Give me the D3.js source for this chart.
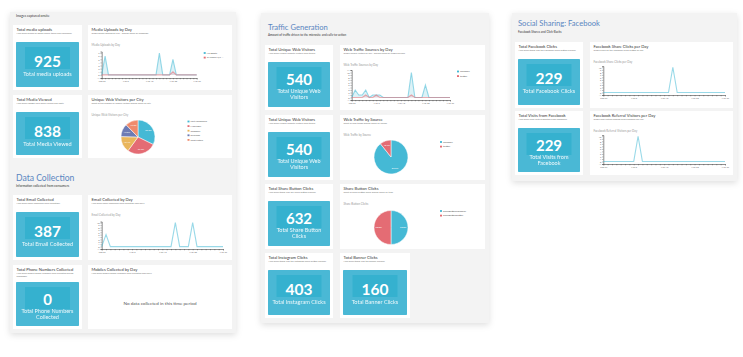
<!DOCTYPE html>
<html><head><meta charset="utf-8">
<script src="https://cdn.jsdelivr.net/npm/d3@7"></script>
<style>html,body{margin:0;padding:0;background:#fff;}svg{display:block;font-family:Lato,"Open Sans",sans-serif;}</style>
</head><body><svg id="c" width="743" height="357"></svg>
<script>
// ---------- DATA ----------
const days = ["Feb 27","Feb 28","Mar 1","Mar 2","Mar 3","Mar 4","Mar 5","Mar 6","Mar 7","Mar 8","Mar 9","Mar 10","Mar 11","Mar 12","Mar 13","Mar 14","Mar 15","Mar 16","Mar 17","Mar 18","Mar 19","Mar 20","Mar 21","Mar 22","Mar 23","Mar 24","Mar 25","Mar 26","Mar 27"];
const dayTickLabels = ["Feb 27","Mar 6","Mar 13","Mar 20","Mar 27"];

const mediaSeriesNames = ["Ms Empty","Ci Fresno 2/7 ..."];
const mediaEmpty   = [0,6,0,0,0,0,0,0,0,0,0,0,0,0,0,0,0,7,0,0,0,5,0,0,0,0,0,0,0];
const mediaFresno  = [0,0,0,0,0,0,0,0,0,0,0,0,0,0,0,0,0,0,0,0,0,1,0,0,0,0,0,0,0];

const emailByDay   = [0,5,0,0,0,0,0,0,0,0,0,0,0,0,0,0,0,10,0,0,0,10,0,0,0,0,0,0,0];

const trafficSourceNames = ["facebook","twitter"];
const trafficFacebook = [0,3,1,1,3,0,1,1,1,0,0,0,0,0,0,0,0,10,0,0,0,5,0,0,0,0,0,0,0];
const trafficTwitter  = [0,0,0,0,1,0,0,1,0,0,0,0,0,0,0,0,0,1,0,0,0,0,0,0,0,0,0,0,0];

const fbShareByDay    = [0,0,0,0,0,0,0,0,0,0,0,0,0,0,0,0,10,0,0,0,0,0,0,0,0,0,0,0,0];
const fbReferralByDay = [0,0,0,0,0,0,0,0,10,0,0,0,0,0,0,0,0,0,0,0,0,0,0,0,0,0,0,0,0];

const cityNames  = ["Fort Lauderdale","Moon Bay","Campbell","Riverside","Saint Peters"];
const cityShares = [32.3,27.7,15.4,12.3,12.3];

const sourceShares = [89.3,10.7];
const shareButtonNames = ["ShareButtonFacebook","ShareButtonTwitter"];
const shareButtonShares = [50.0,50.0];

const statValues = {uploads:925, viewed:838, email:387, phones:0, visitors:540, share:632, instagram:403, banner:160, fbClicks:229, fbVisits:229};

// ---------- STYLE ----------
const C = {panel:"#f3f3f3", card:"#ffffff", tile:"#4ab8d5", tileInner:"#35b1cf",
  head:"#5a86c1", blue:"#45b9d5", red:"#e46c74", yellow:"#e9b65c", purple:"#6d7bb4", orange:"#ef8b6b"};
const pieColors = [C.blue,C.red,C.yellow,C.purple,C.orange];

const svg = d3.select("#c");
const defs = svg.append("defs");
const f = defs.append("filter").attr("id","sh").attr("x","-10%").attr("y","-10%").attr("width","120%").attr("height","125%");
f.append("feDropShadow").attr("dx",0).attr("dy",2).attr("stdDeviation",3).attr("flood-color","#000").attr("flood-opacity",0.13);

function panel(x,y,w,h){
  svg.append("rect").attr("x",x).attr("y",y).attr("width",w).attr("height",h).attr("fill",C.panel).attr("filter","url(#sh)");
}
function txt(g,x,y,s,size,fill,opts={}){
  const t=g.append("text").attr("x",x).attr("y",y).attr("font-size",size).attr("fill",fill).text(s);
  if(opts.anchor) t.attr("text-anchor",opts.anchor);
  if(opts.weight) t.attr("font-weight",opts.weight);
  return t;
}
function wrapText(g,x,y,s,size,fill,maxW,lh){
  const words=s.split(" "); let line=[]; let yy=y;
  let t=txt(g,x,yy,"",size,fill);
  words.forEach(w=>{line.push(w); t.text(line.join(" "));
    if(t.node().getComputedTextLength()>maxW && line.length>1){line.pop(); t.text(line.join(" ")); line=[w]; yy+=lh; t=txt(g,x,yy,w,size,fill);} });
}
function card(x,y,w,h,title,sub){
  const g=svg.append("g");
  g.append("rect").attr("x",x).attr("y",y).attr("width",w).attr("height",h).attr("fill",C.card);
  txt(g,x+3.5,y+5.8,title,4.1,"#333");
  wrapText(g,x+3.5,y+9.3,sub,2.3,"#777",w-10,2.8);
  return g;
}
function statCard(x,y,w,h,title,sub,value,label){
  const g=card(x,y,w,h,title,sub);
  const tx=x+3, ty=y+17, tw=w-6, th=h-20;
  g.append("rect").attr("x",tx).attr("y",ty).attr("width",tw).attr("height",th).attr("fill",C.tile).attr("rx",0.8);
  g.append("rect").attr("x",tx+tw/2-22.5).attr("y",ty+5).attr("width",45).attr("height",22).attr("fill",C.tileInner);
  const lines = Array.isArray(label)?label:[label];
  const cx=tx+tw/2;
  if(lines.length===1){
    txt(g,cx,ty+24.5,value,15.5,"#fff",{anchor:"middle",weight:"bold"});
    txt(g,cx,ty+34,lines[0],5.6,"#fff",{anchor:"middle"}).attr("opacity",0.9);
  } else {
    txt(g,cx,ty+23,value,15,"#fff",{anchor:"middle",weight:"bold"});
    lines.forEach((l,i)=>txt(g,cx,ty+31.2+i*5.6,l,5.5,"#fff",{anchor:"middle"}).attr("opacity",0.9));
  }
}
function lineChart(g,cardX,cardY,chartTitle,box,seriesList,colors,yMax,legendNames,area){
  txt(g,cardX+3.5,cardY+20.5,chartTitle,2.9,"#999");
  const x=d3.scalePoint().domain(days).range([box.x0,box.x1]);
  const y=d3.scaleLinear().domain([-1,yMax]).range([box.y1,box.y0]);
  const ya=g.append("g").attr("transform",`translate(${box.x0},0)`).call(d3.axisLeft(y).ticks(12).tickSize(1.2).tickPadding(0.8));
  const xa=g.append("g").attr("transform",`translate(0,${box.y1})`).call(d3.axisBottom(x).tickSize(1.3).tickPadding(0.8).tickFormat(d=>dayTickLabels.includes(d)?d:""));
  [ya,xa].forEach(a=>{a.select(".domain").attr("stroke","#444").attr("stroke-width",0.6);
    a.selectAll(".tick line").attr("stroke","#444").attr("stroke-width",0.4);
    a.selectAll("text").attr("font-size",2.3).attr("fill","#666").attr("font-family","Lato,sans-serif");});
  seriesList.forEach((vals,i)=>{
    const col=colors[i];
    if(area){
      g.append("path").datum(vals).attr("fill",col).attr("fill-opacity",0.18)
       .attr("d",d3.area().x((d,j)=>x(days[j])).y0(y(0)).y1(d=>y(d)));
    }
    g.append("path").datum(vals).attr("fill","none").attr("stroke",col).attr("stroke-opacity",0.55).attr("stroke-width",1.1)
     .attr("d",d3.line().x((d,j)=>x(days[j])).y(d=>y(d)));
  });
  if(legendNames) legend(g,box.x1+7,box.y0+2,legendNames,colors);
}
function legend(g,x,y,names,colors){
  names.forEach((n,i)=>{
    g.append("rect").attr("x",x).attr("y",y+i*4.6-1.4).attr("width",2).attr("height",1.8).attr("fill",colors[i]);
    txt(g,x+3,y+i*4.6+0.3,n,2.4,"#555");
  });
}
function pieChart(g,cardX,cardY,chartTitle,cx,cy,r,vals,colors,names,lx,ly){
  txt(g,cardX+3.5,cardY+20.5,chartTitle,2.9,"#999");
  const arcs=d3.pie().sort(null)(vals);
  const arc=d3.arc().innerRadius(0).outerRadius(r);
  const pg=g.append("g").attr("transform",`translate(${cx},${cy})`);
  pg.selectAll("path").data(arcs).join("path").attr("d",arc).attr("fill",(d,i)=>colors[i]).attr("stroke","#fff").attr("stroke-width",0.5);
  const la=d3.arc().innerRadius(r*0.72).outerRadius(r*0.72);
  pg.selectAll("text").data(arcs).join("text").attr("transform",d=>`translate(${la.centroid(d)})`)
    .attr("text-anchor","middle").attr("dy","0.35em").attr("font-size",2.3).attr("fill","#fff").text(d=>d.data.toFixed(1)+"%");
  legend(g,lx,ly,names,colors);
}

// ---------- PANEL 1 ----------
panel(10,12,226,321);
txt(svg,16,16.5,"Images captured onsite",3.3,"#333");
statCard(13,25,69,65,"Total media uploads","How many pieces of media where taken and uploaded?",statValues.uploads,"Total media uploads");
let g=card(88,25,144,65,"Media Uploads by Day","Graph media uploads by day - broken down by campaign");
lineChart(g,88,25,"Media Uploads by Day",{x0:101.7,x1:196.7,y0:51.5,y1:78},[mediaEmpty,mediaFresno],[C.blue,C.red],7.5,mediaSeriesNames,true);
statCard(13,95,69,63,"Total Media Viewed","How many images have been viewed and sent?",statValues.viewed,"Total Media Viewed");
g=card(88,95,144,63,"Unique Web Visitors per City","Chart of the number of unique visitors broken down by city");
pieChart(g,88,95,"Unique Web Visitors per City",138,137,17,cityShares,pieColors,cityNames,187.5,122);

txt(svg,16,180.5,"Data Collection",8.6,C.head);
txt(svg,16,186.5,"Information collected from consumers",3.2,"#333");
statCard(13,195,69,65,"Total Email Collected","How many email addresses were collected?",statValues.email,"Total Email Collected");
g=card(88,195,144,65,"Email Collected by Day","How many email addresses were collected each day?");
lineChart(g,88,195,"Email Collected by Day",{x0:101.7,x1:223,y0:221.5,y1:249},[emailByDay],[C.blue],10.5,null,false);
statCard(13,265,69,64,"Total Phone Numbers Collected","How many mobile phone numbers were collected during campaign?",statValues.phones,["Total Phone Numbers","Collected"]);
g=card(88,265,144,64,"Mobiles Collected by Day","How many mobile phone numbers were collected each day?");
txt(g,160,304.5,"No data collected in this time period",4.6,"#555",{anchor:"middle"});

// ---------- PANEL 2 ----------
panel(261,13,228,310);
txt(svg,268,29.5,"Traffic Generation",7.6,C.head);
txt(svg,268,35.5,"Amount of traffic driven to the microsite and calls-to-action",3.0,"#333");
statCard(265,45,68,65,"Total Unique Web Visitors","How many unique website visitors were there?",statValues.visitors,["Total Unique Web","Visitors"]);
g=card(340,45,145,65,"Web Traffic Sources by Day","Graph unique visitors by day - broken down by traffic sources");
lineChart(g,340,45,"Web Traffic Sources by Day",{x0:351.7,x1:450,y0:70,y1:100},[trafficFacebook,trafficTwitter],[C.blue,C.red],11,trafficSourceNames,true);
statCard(265,115,68,65,"Total Unique Web Visitors","How many unique website visitors were there?",statValues.visitors,["Total Unique Web","Visitors"]);
g=card(340,115,145,65,"Web Traffic by Source","Chart of web traffic broken down by source");
pieChart(g,340,115,"Web Traffic by Source",391,157,17,sourceShares,[C.blue,C.red],trafficSourceNames,440,142.5);
statCard(265,184,68,65,"Total Share Button Clicks","How many times was any share button clicked?",statValues.share,["Total Share Button","Clicks"]);
g=card(340,184,145,65,"Share Button Clicks","Chart of share button clicks broken down by type");
pieChart(g,340,184,"Share Button Clicks",391,227.5,17,shareButtonShares,[C.blue,C.red],shareButtonNames,440,211.5);
statCard(265,253,68,65,"Total Instagram Clicks","How many times was the Instagram share button clicked?",statValues.instagram,"Total Instagram Clicks");
statCard(340,253,70,65,"Total Banner Clicks","How many times was the banner clicked?",statValues.banner,"Total Banner Clicks");

// ---------- PANEL 3 ----------
panel(512,13,225,168);
txt(svg,518,25.5,"Social Sharing: Facebook",7.6,C.head);
txt(svg,518,32.5,"Facebook Shares and Click-Backs",3.0,"#333");
statCard(515,42,68,66,"Total Facebook Clicks","How many times was the Facebook share button clicked?",statValues.fbClicks,"Total Facebook Clicks");
g=card(590,42,143,66,"Facebook Share Clicks per Day","Graph clicks on the Facebook share button by day");
lineChart(g,590,42,"Facebook Share Clicks per Day",{x0:603.3,x1:725,y0:66,y1:95},[fbShareByDay],[C.blue],10.5,null,false);
statCard(515,111,68,64,"Total Visits from Facebook","How many web visits originated from Facebook?",statValues.fbVisits,["Total Visits from","Facebook"]);
g=card(590,111,143,64,"Facebook Referral Visitors per Day","Graph web visitors coming from Facebook per day");
lineChart(g,590,111,"Facebook Referral Visitors per Day",{x0:603.3,x1:725,y0:135,y1:164},[fbReferralByDay],[C.blue],10.5,null,false);
</script></body></html>
